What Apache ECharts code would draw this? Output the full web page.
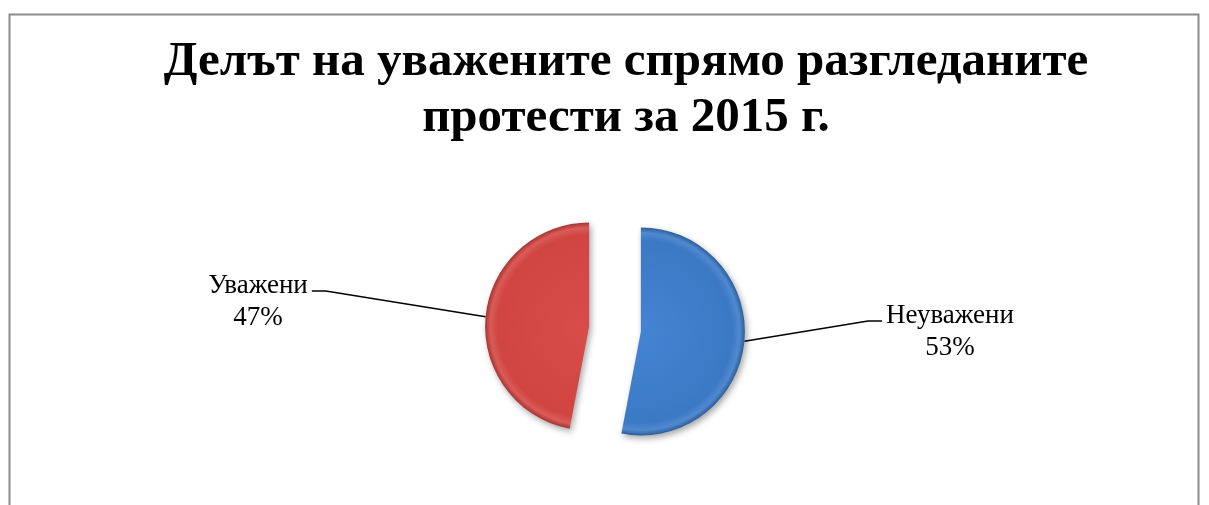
<!DOCTYPE html>
<html><head><meta charset="utf-8">
<script src="https://cdn.jsdelivr.net/npm/echarts@6/dist/echarts.min.js"></script>
<style>html,body{margin:0;padding:0;background:#fff}#c{width:1209px;height:505px}</style>
</head><body><div id="c"></div>
<script>
// ---- data ----
const titleLines = ['Делът на уважените спрямо разгледаните', 'протести за 2015 г.'];
const categories = ['Неуважени', 'Уважени'];
const values = [53, 47];
const percentLabels = ['53%', '47%'];

// ---- style / layout ----
const center = [615, 329];
const radius = 104;
const explode = 26;
const palette = [
  { c0: '#4384d2', c1: '#3c79c5', rim: '#5089cf', edge: '#2c5d9a' },
  { c0: '#d84c49', c1: '#d04542', rim: '#da5b58', edge: '#a53432' }
];
const labelCenters = [[950, 332], [258, 302]];

// exploded centre of every slice, along its bisector
const total = values.reduce((a, b) => a + b, 0);
let cum = 0;
const sliceCenters = values.map(v => {
  const mid = (90 - (cum + v / 2) / total * 360) * Math.PI / 180;
  cum += v;
  return [center[0] + explode * Math.cos(mid), center[1] - explode * Math.sin(mid)];
});

const hiddenStyle = { color: 'rgba(0,0,0,0)', shadowBlur: 0, shadowColor: 'rgba(0,0,0,0)', borderWidth: 0 };

function labelLayout(p) {
  const lc = labelCenters[p.dataIndex];
  if (!lc || !p.labelRect) return {};
  const w = p.labelRect.width, h = p.labelRect.height;
  const res = { x: lc[0], y: lc[1], align: 'center', verticalAlign: 'middle' };
  if (p.labelLinePoints && p.labelLinePoints.length) {
    const a = p.labelLinePoints[0];
    const right = a[0] > lc[0];
    const ey = lc[1] - h / 2 + 21;
    const ex = right ? lc[0] + w / 2 + 4 : lc[0] - w / 2 - 4;
    const bx = right ? ex + 14 : ex - 14;
    res.labelLinePoints = [a, [bx, ey], [ex, ey]];
  }
  return res;
}

const series = categories.map((_, i) => {
  const p = palette[i];
  const c = sliceCenters[i];
  return {
    type: 'pie',
    center: c,
    radius: radius,
    startAngle: 90,
    clockwise: true,
    silent: true,
    emphasis: { disabled: true },
    label: {
      show: true,
      position: 'outside',
      formatter: q => q.name + '\n' + percentLabels[q.dataIndex],
      fontFamily: 'Liberation Serif',
      fontSize: 27,
      lineHeight: 32,
      color: '#000',
      align: 'center'
    },
    labelLine: {
      show: true,
      length: 60,
      length2: 12,
      lineStyle: { color: '#000', width: 1.5 }
    },
    labelLayout: labelLayout,
    data: categories.map((name, j) => j === i ? {
      name: name,
      value: values[j],
      itemStyle: {
        color: new echarts.graphic.RadialGradient(c[0], c[1], radius, [
          { offset: 0, color: p.c0 },
          { offset: 0.88, color: p.c1 },
          { offset: 0.95, color: p.rim },
          { offset: 1, color: p.edge }
        ], true),
        shadowBlur: 6,
        shadowColor: 'rgba(0,0,0,0.35)',
        shadowOffsetX: 2,
        shadowOffsetY: 3
      }
    } : {
      name: name,
      value: values[j],
      itemStyle: hiddenStyle,
      label: { show: false },
      labelLine: { show: false }
    })
  };
});

const chart = echarts.init(document.getElementById('c'));
chart.setOption({
  backgroundColor: '#ffffff',
  animation: false,
  title: {
    text: titleLines.join('\n'),
    left: 621,
    textAlign: 'center',
    top: 29,
    padding: 5,
    textStyle: {
      fontFamily: 'Liberation Serif',
      fontWeight: 'bold',
      fontSize: 49,
      lineHeight: 56,
      color: '#000'
    }
  },
  graphic: [{
    type: 'rect',
    shape: { x: 9.5, y: 14.5, width: 1189, height: 520 },
    style: { fill: 'none', stroke: '#8c8c8c', lineWidth: 2 },
    silent: true
  }],
  series: series
});
</script></body></html>
